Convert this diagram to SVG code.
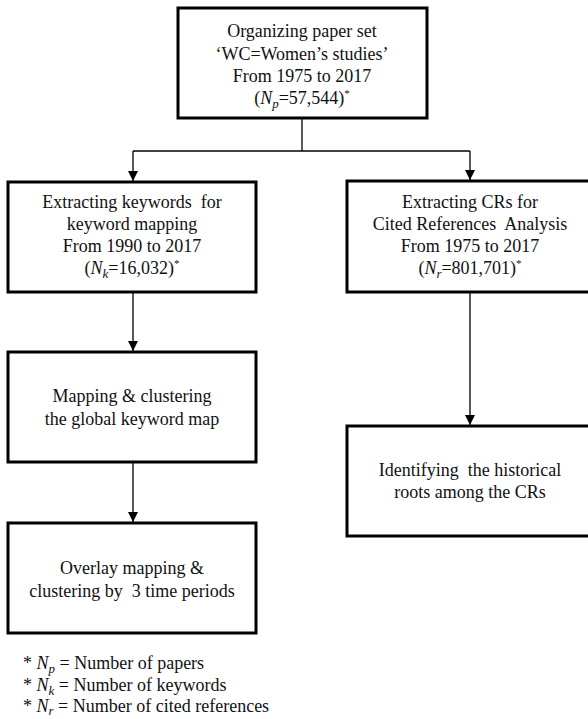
<svg xmlns="http://www.w3.org/2000/svg" width="588" height="719" viewBox="0 0 588 719">
<style>
.box{fill:#fff;stroke:#000;stroke-width:3}
.t{font-family:'Liberation Serif','Times New Roman',Times,'Noto Serif','DejaVu Serif',serif;font-size:18px;fill:#111;text-anchor:middle}
.f{font-family:'Liberation Serif','Times New Roman',Times,'Noto Serif','DejaVu Serif',serif;font-size:18px;fill:#111}
.i{font-style:italic}
.sub{font-size:13px;font-style:italic}
.sup{font-size:11px}
.c{fill:none;stroke:#000;stroke-width:1.3}
</style>
<defs>
<marker id="ah" markerWidth="10" markerHeight="10" refX="10" refY="5" orient="auto" markerUnits="userSpaceOnUse">
<path d="M0,0 L10,5 L0,10 Z" fill="#000"/>
</marker>
</defs>
<rect width="588" height="719" fill="#fff"/>
<g id="connectors">
<path class="c" d="M302,118 V151"/>
<path class="c" d="M133,151 H470"/>
<path class="c" d="M133,151 V181" marker-end="url(#ah)"/>
<path class="c" d="M470,151 V180" marker-end="url(#ah)"/>
<path class="c" d="M133,292 V351" marker-end="url(#ah)"/>
<path class="c" d="M133,462 V522" marker-end="url(#ah)"/>
<path class="c" d="M470,292 V425" marker-end="url(#ah)"/>
</g>
<g id="n1">
<rect class="box" x="178" y="8" width="249" height="110"/>
<text class="t" x="302" y="37">Organizing paper set</text>
<text class="t" x="302" y="60">‘WC=Women’s studies’</text>
<text class="t" x="302" y="82">From 1975 to 2017</text>
<text class="t" x="302" y="104">(<tspan class="i">N</tspan><tspan class="sub" dy="4">p</tspan><tspan dy="-4">=57,544)</tspan><tspan class="sup" dy="-7">*</tspan></text>
</g>
<g id="n2">
<rect class="box" x="8" y="182" width="248" height="110"/>
<text class="t" x="132" y="208" xml:space="preserve">Extracting keywords  for</text>
<text class="t" x="132" y="230">keyword mapping</text>
<text class="t" x="132" y="252">From 1990 to 2017</text>
<text class="t" x="132" y="274">(<tspan class="i">N</tspan><tspan class="sub" dy="4">k</tspan><tspan dy="-4">=16,032)</tspan><tspan class="sup" dy="-7">*</tspan></text>
</g>
<g id="n3">
<rect class="box" x="347" y="181" width="248" height="111"/>
<text class="t" x="470" y="208">Extracting CRs for</text>
<text class="t" x="470" y="230" xml:space="preserve">Cited References  Analysis</text>
<text class="t" x="470" y="252">From 1975 to 2017</text>
<text class="t" x="470" y="274">(<tspan class="i">N</tspan><tspan class="sub" dy="4">r</tspan><tspan dy="-4">=801,701)</tspan><tspan class="sup" dy="-7">*</tspan></text>
</g>
<g id="n4">
<rect class="box" x="8" y="352" width="248" height="110"/>
<text class="t" x="132" y="402">Mapping &amp; clustering</text>
<text class="t" x="132" y="425">the global keyword map</text>
</g>
<g id="n5">
<rect class="box" x="8" y="523" width="248" height="110"/>
<text class="t" x="132" y="574">Overlay mapping &amp;</text>
<text class="t" x="132" y="597" xml:space="preserve">clustering by  3 time periods</text>
</g>
<g id="n6">
<rect class="box" x="347" y="426" width="248" height="110"/>
<text class="t" x="470" y="476" xml:space="preserve">Identifying  the historical</text>
<text class="t" x="470" y="498">roots among the CRs</text>
</g>
<g id="legend">
<text class="f" x="23" y="669">* <tspan class="i">N</tspan><tspan class="sub" dy="4">p</tspan><tspan dy="-4"> = Number of papers</tspan></text>
<text class="f" x="23" y="691">* <tspan class="i">N</tspan><tspan class="sub" dy="4">k</tspan><tspan dy="-4"> = Number of keywords</tspan></text>
<text class="f" x="23" y="712">* <tspan class="i">N</tspan><tspan class="sub" dy="3">r</tspan><tspan dy="-3"> = Number of cited references</tspan></text>
</g>
</svg>
